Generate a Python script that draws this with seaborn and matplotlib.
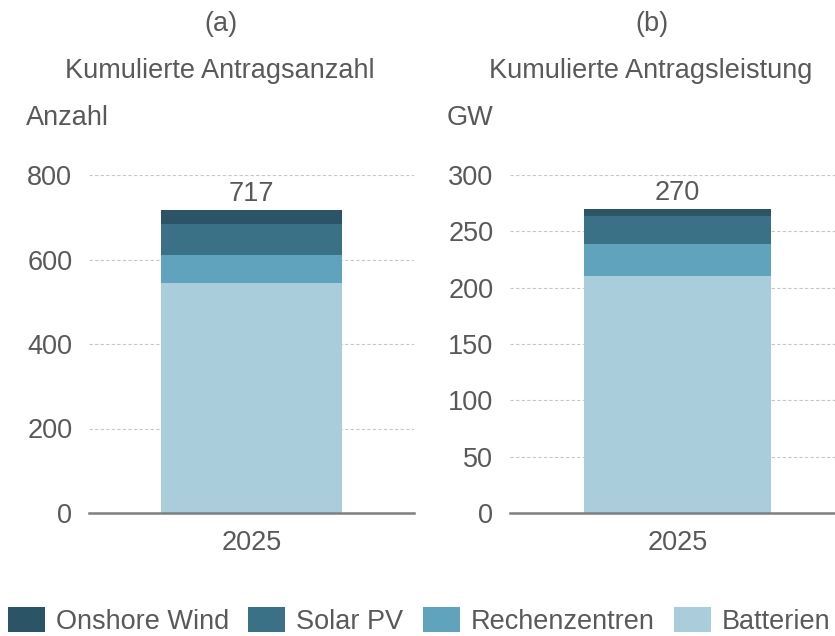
import matplotlib
matplotlib.use("Agg")
import matplotlib.pyplot as plt
import seaborn as sns
import pandas as pd
from matplotlib.patches import Patch

sns.set_theme(style="white")
plt.rcParams['font.family'] = ['Liberation Sans', 'DejaVu Sans']

years = ["2025"]
series = ["Onshore Wind", "Solar PV", "Rechenzentren", "Batterien"]
colors = ["#2b5467", "#3a7187", "#5fa3bd", "#a9cddb"]
# order bottom->top: Batterien, Rechenzentren, Solar PV, Onshore Wind
anzahl_batterien = [545]
anzahl_rechen = [65]
anzahl_solar = [73]
anzahl_wind = [34]
gw_batterien = [210]
gw_rechen = [29]
gw_solar = [25]
gw_wind = [6]
total_anzahl = [717]
total_gw = [270]

TXT = "#595959"
FS = 19.5
fig = plt.figure(figsize=(8.35, 6.36), dpi=100)

def panel(rect, vals, total, ymax, step):
    ax = fig.add_axes(rect)
    cum = []
    s = [0] * len(years)
    for v in vals:
        s = [a + b for a, b in zip(s, v)]
        cum.append(list(s))
    bottom_top_colors = colors[::-1]
    for c, col in zip(reversed(cum), reversed(bottom_top_colors)):
        df = pd.DataFrame({"year": years, "v": c})
        sns.barplot(data=df, x="year", y="v", color=col, width=0.556,
                    saturation=1, ax=ax, edgecolor="none", linewidth=0)
    ax.set_xlim(-0.5, 0.5)
    ax.set_ylim(0, ymax)
    ax.set_yticks(range(0, ymax + 1, step))
    ax.yaxis.grid(True, linestyle=(0, (3, 2)), color="#c8c8c8", linewidth=0.8)
    ax.set_axisbelow(True)
    for sp in ["top", "right", "left"]:
        ax.spines[sp].set_visible(False)
    ax.spines["bottom"].set_color("#7f7f7f")
    ax.spines["bottom"].set_linewidth(1.8)
    ax.tick_params(axis="both", length=0, labelsize=FS, colors=TXT)
    ax.tick_params(axis="x", pad=12)
    ax.tick_params(axis="y", pad=12)
    ax.set_xlabel("")
    ax.set_ylabel("")
    for i, t in enumerate(total):
        ax.annotate(f"{t}", (i, t), xytext=(0, 2), textcoords="offset points",
                    ha="center", va="bottom", fontsize=FS, color=TXT)
    return ax

ax1 = panel([89/835, 123/636, 325/835, 338/636],
            [anzahl_batterien, anzahl_rechen, anzahl_solar, anzahl_wind],
            total_anzahl, 800, 200)
ax2 = panel([510/835, 123/636, 335/835, 338/636],
            [gw_batterien, gw_rechen, gw_solar, gw_wind],
            total_gw, 300, 50)

def ftext(x, y, s, ha="center"):
    fig.text(x / 835, 1 - y / 636, s, ha=ha, va="center", fontsize=FS, color=TXT)

ftext(221, 24, "(a)")
ftext(220, 71, "Kumulierte Antragsanzahl")
ftext(26, 118, "Anzahl", ha="left")
ftext(652, 24, "(b)")
ftext(651, 71, "Kumulierte Antragsleistung")
ftext(447, 118, "GW", ha="left")

handles = [Patch(facecolor=c, edgecolor="none") for c in colors]
leg = fig.legend(handles, series, loc="center", bbox_to_anchor=(0.502, 1 - 621/636),
                 ncol=4, frameon=False, fontsize=FS, handlelength=1.37,
                 handleheight=1.0, handletextpad=0.4, columnspacing=0.72,
                 borderpad=0, borderaxespad=0)
for t in leg.get_texts():
    t.set_color(TXT)

fig.savefig("out.png", dpi=100)
